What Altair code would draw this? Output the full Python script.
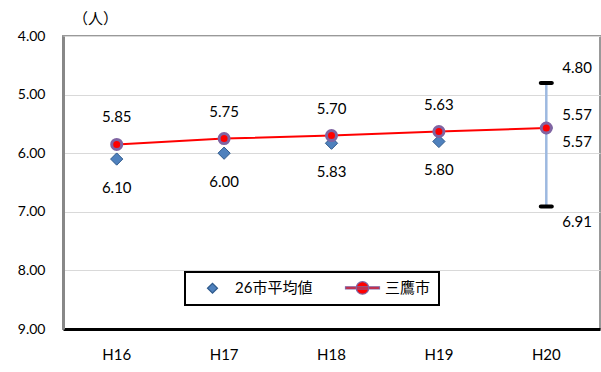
import altair as alt
import pandas as pd

years = ["H16", "H17", "H18", "H19", "H20"]
avg26 = [6.10, 6.00, 5.83, 5.80, 5.57]
mitaka = [5.85, 5.75, 5.70, 5.63, 5.57]
range_year = ["H20"]
range_lo = [4.80]
range_hi = [6.91]
y_ticks = [4, 5, 6, 7, 8, 9]
series_names = ["26市平均値", "三鷹市"]

FONT = "Lato, Noto Sans CJK JP, sans-serif"

long_df = pd.DataFrame(
    {
        "year": years * 2,
        "series": [series_names[0]] * len(years) + [series_names[1]] * len(years),
        "value": avg26 + mitaka,
    }
)
avg_df = pd.DataFrame({"year": years, "value": avg26})
mit_df = pd.DataFrame({"year": years, "value": mitaka})
rng_df = pd.DataFrame({"year": range_year, "lo": range_lo, "hi": range_hi})
cap_df = pd.DataFrame(
    {"year": range_year * 2, "value": range_lo + range_hi, "kind": ["lo", "hi"]}
)

x_enc = alt.X(
    "year:N",
    sort=years,
    scale=alt.Scale(domain=years, paddingInner=0, paddingOuter=0),
    axis=alt.Axis(
        title=None,
        labelAngle=0,
        ticks=False,
        domainColor="black",
        domainWidth=3,
        labelFontSize=15,
        labelPadding=18,
        labelColor="black",
        labelFont=FONT,
        grid=False,
    ),
)
y_scale = alt.Scale(domain=[4, 9], reverse=True, nice=False, zero=False)
y_axis = alt.Axis(
    title="（人）",
    titleAngle=0,
    titleX=32,
    titleY=-18,
    titleAlign="center",
    titleBaseline="middle",
    titleFontSize=15,
    titleFontWeight="normal",
    titleColor="black",
    titleFont=FONT,
    values=y_ticks,
    format=".2f",
    ticks=False,
    domainColor="#888888",
    domainWidth=3,
    labelFontSize=14,
    labelColor="black",
    labelPadding=18,
    labelFont=FONT,
    grid=True,
    gridColor="#d9d9d9",
    gridWidth=1,
)
y_enc = alt.Y("value:Q", scale=y_scale, axis=y_axis)

base = alt.Chart(long_df)

err_rule = alt.Chart(rng_df).mark_rule(color="#9DB9E0", strokeWidth=2.5).encode(
    x=alt.X("year:N", sort=years), y=alt.Y("lo:Q", scale=y_scale), y2="hi:Q"
)
caps = alt.Chart(cap_df).mark_tick(
    color="black", thickness=4, size=15, cornerRadius=2, opacity=1
).encode(x=alt.X("year:N", sort=years), y=alt.Y("value:Q", scale=y_scale))

line = alt.Chart(mit_df).mark_line(color="red", strokeWidth=2).encode(
    x=alt.X("year:N", sort=years), y=alt.Y("value:Q", scale=y_scale)
)
diamonds = alt.Chart(avg_df).mark_point(
    shape="diamond", filled=True, fill="#4F81BD", stroke="#2F5A8C",
    strokeWidth=1, size=150, opacity=1
).encode(x=alt.X("year:N", sort=years), y=alt.Y("value:Q", scale=y_scale))
circles = alt.Chart(mit_df).mark_point(
    shape="circle", filled=True, fill="red", stroke="#8064A2",
    strokeWidth=3, size=100, opacity=1
).encode(x=alt.X("year:N", sort=years), y=alt.Y("value:Q", scale=y_scale))

lbl = dict(fontSize=15, font=FONT, color="black")
mit_lbl = alt.Chart(mit_df).transform_filter(alt.datum.year != "H20").mark_text(
    dy=-27, **lbl
).encode(x=alt.X("year:N", sort=years), y=alt.Y("value:Q", scale=y_scale),
         text=alt.Text("value:Q", format=".2f"))
avg_lbl = alt.Chart(avg_df).transform_filter(alt.datum.year != "H20").mark_text(
    dy=29, **lbl
).encode(x=alt.X("year:N", sort=years), y=alt.Y("value:Q", scale=y_scale),
         text=alt.Text("value:Q", format=".2f"))
mit_lbl20 = alt.Chart(mit_df).transform_filter(alt.datum.year == "H20").mark_text(
    dy=-13, dx=16, align="left", **lbl
).encode(x=alt.X("year:N", sort=years), y=alt.Y("value:Q", scale=y_scale),
         text=alt.Text("value:Q", format=".2f"))
avg_lbl20 = alt.Chart(avg_df).transform_filter(alt.datum.year == "H20").mark_text(
    dy=14, dx=16, align="left", **lbl
).encode(x=alt.X("year:N", sort=years), y=alt.Y("value:Q", scale=y_scale),
         text=alt.Text("value:Q", format=".2f"))
lo_lbl = alt.Chart(cap_df).transform_filter(alt.datum.kind == "lo").mark_text(
    dy=-15, dx=16, align="left", **lbl
).encode(x=alt.X("year:N", sort=years), y=alt.Y("value:Q", scale=y_scale),
         text=alt.Text("value:Q", format=".2f"))
hi_lbl = alt.Chart(cap_df).transform_filter(alt.datum.kind == "hi").mark_text(
    dy=15, dx=16, align="left", **lbl
).encode(x=alt.X("year:N", sort=years), y=alt.Y("value:Q", scale=y_scale),
         text=alt.Text("value:Q", format=".2f"))

line_circle_path = (
    "M-3.4,-0.22H3.4V0.22H-3.4Z"
    "M1.25,0A1.25,1.25,0,1,1,-1.25,0A1.25,1.25,0,1,1,1.25,0Z"
)
legend = alt.Legend(
    title="\u3000",
    titleOrient="left",
    titleFontSize=14,
    titlePadding=12,
    orient="none",
    legendX=122,
    legendY=236,
    direction="horizontal",
    strokeColor="black",
    padding=8,
    symbolSize=100,
    symbolOpacity=1,
    symbolStrokeWidth=1.2,
    labelFontSize=15,
    labelFont=FONT,
    labelColor="black",
    labelOffset=15,
    columnPadding=30,
    fillColor="white",
)
legend_layer = base.mark_point(filled=True, opacity=0).encode(
    x=alt.X("year:N", sort=years),
    y=alt.Y("value:Q", scale=y_scale),
    shape=alt.Shape(
        "series:N",
        scale=alt.Scale(domain=series_names, range=["diamond", line_circle_path]),
        legend=legend,
    ),
    fill=alt.Fill(
        "series:N",
        scale=alt.Scale(domain=series_names, range=["#4F81BD", "red"]),
        legend=legend,
    ),
    stroke=alt.Stroke(
        "series:N",
        scale=alt.Scale(domain=series_names, range=["#2F5A8C", "#8064A2"]),
        legend=legend,
    ),
)

axes_layer = base.mark_point(opacity=0).encode(x=x_enc, y=y_enc)

chart = (
    alt.layer(
        axes_layer,
        err_rule,
        caps,
        line,
        diamonds,
        circles,
        mit_lbl,
        avg_lbl,
        mit_lbl20,
        avg_lbl20,
        lo_lbl,
        hi_lbl,
        legend_layer,
    )
    .properties(
        width=537,
        height=293,
        padding={"left": 63, "top": 36, "right": 1, "bottom": 43},
        autosize=alt.AutoSizeParams(type="none"),
        background="white",
    )
    .configure_view(stroke="#999999", strokeWidth=2)
    .configure_legend(strokeWidth=2)
)

chart.save("out.html", embed_options={"renderer": "svg", "actions": False})
